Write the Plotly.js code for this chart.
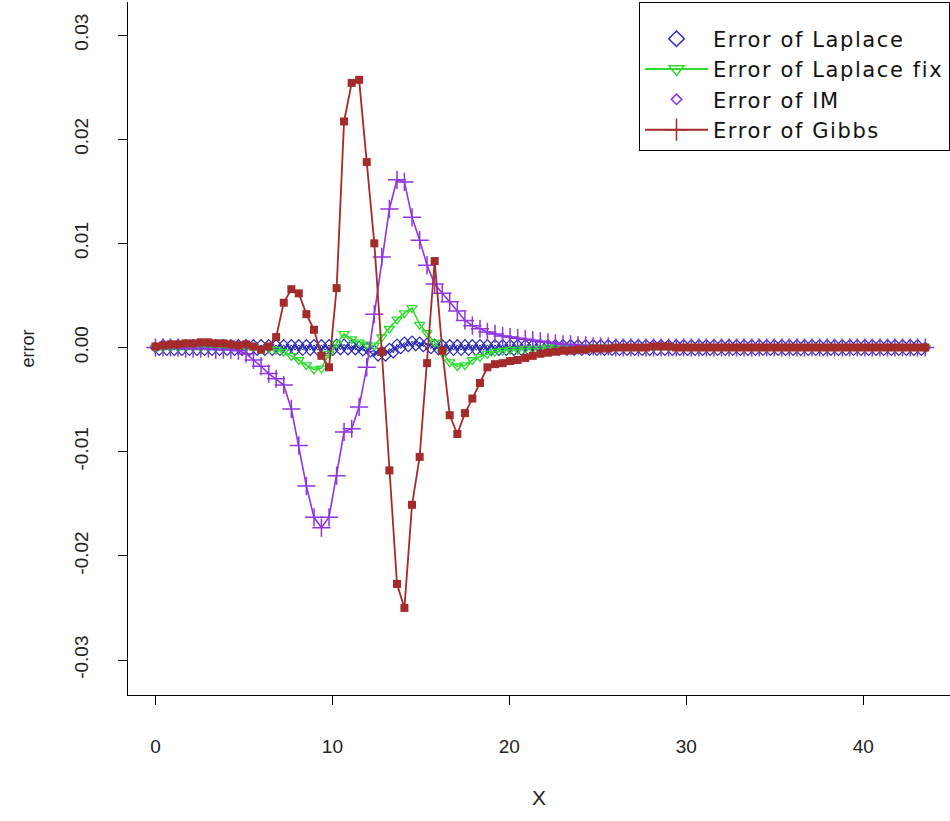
<!DOCTYPE html>
<html>
<head>
<meta charset="utf-8">
<script src="https://cdn.plot.ly/plotly-3.0.1.min.js"></script>
<style>html,body{margin:0;padding:0;background:#fff;}#chart{width:950px;height:821px;}
.legendtext{letter-spacing:1.6px;}</style>
</head>
<body>
<div id="chart"></div>
<script>
// x grid (shared by all series)
var xVals = [0.00,0.43,0.85,1.28,1.71,2.13,2.56,2.99,3.41,3.84,4.26,4.69,5.12,5.54,5.97,6.40,6.82,7.25,7.68,8.10,
  8.53,8.96,9.38,9.81,10.24,10.66,11.09,11.51,11.94,12.37,12.79,13.22,13.65,14.07,14.50,14.93,15.35,15.78,16.21,16.63,
  17.06,17.49,17.91,18.34,18.76,19.19,19.62,20.04,20.47,20.90,21.32,21.75,22.18,22.60,23.03,23.46,23.88,24.31,24.74,25.16,
  25.59,26.01,26.44,26.87,27.29,27.72,28.15,28.57,29.00,29.43,29.85,30.28,30.71,31.13,31.56,31.99,32.41,32.84,33.26,33.69,
  34.12,34.54,34.97,35.40,35.82,36.25,36.68,37.10,37.53,37.96,38.38,38.81,39.24,39.66,40.09,40.51,40.94,41.37,41.79,42.22,
  42.65,43.07,43.50];

// Error of Laplace: upper and lower zig-zag values (lower sits half a step later)
var laplaceUpper = [0.0000,0.00025,0.00025,0.00025,0.00025,0.00025,0.00025,0.00025,0.00025,0.00025,
  0.00025,0.00025,0.00025,0.00025,0.00025,0.00025,0.00025,0.00025,0.00025,0.00025,
  0.00025,0.00025,0.00025,0.00025,0.0003,0.0003,0.0002,0.0001,0.0000,-0.0003,
  -0.0004,-0.0001,0.0003,0.0005,0.0006,0.0005,0.0004,0.0003,0.00025,0.00025,
  0.00025,0.00025,0.00025,0.00025,0.00025,0.00025,0.00025,0.00025,0.00025,0.00025,
  0.00025,0.00025,0.00025,0.00025,0.00025,0.00025,0.00025,0.00025,0.00025,0.00025,
  0.00025,0.00025,0.00025,0.00025,0.00025,0.00025,0.00025,0.00025,0.00025,0.00025,
  0.00025,0.00025,0.00025,0.00025,0.00025,0.00025,0.00025,0.00025,0.00025,0.00025,
  0.00025,0.00025,0.00025,0.00025,0.00025,0.00025,0.00025,0.00025,0.00025,0.00025,
  0.00025,0.00025,0.00025,0.00025,0.00025,0.00025,0.00025,0.00025,0.00025,0.00025,
  0.00025,0.00025,0.0000];
var laplaceLower = [-0.00025,-0.00025,-0.00025,-0.00025,-0.00025,-0.00025,-0.00025,-0.00025,-0.00025,-0.00025,
  -0.00025,-0.00025,-0.00025,-0.00025,-0.00025,-0.00025,-0.00025,-0.00025,-0.00025,-0.00025,
  -0.00025,-0.00025,-0.00025,-0.00025,-0.0002,-0.0002,-0.0002,-0.0003,-0.0004,-0.0008,
  -0.0008,-0.0005,-0.0001,0.0001,0.0002,0.0001,-0.0001,-0.0002,-0.00025,-0.00025,
  -0.00025,-0.00025,-0.00025,-0.00025,-0.00025,-0.00025,-0.00025,-0.00025,-0.00025,-0.00025,
  -0.00025,-0.00025,-0.00025,-0.00025,-0.00025,-0.00025,-0.00025,-0.00025,-0.00025,-0.00025,
  -0.00025,-0.00025,-0.00025,-0.00025,-0.00025,-0.00025,-0.00025,-0.00025,-0.00025,-0.00025,
  -0.00025,-0.00025,-0.00025,-0.00025,-0.00025,-0.00025,-0.00025,-0.00025,-0.00025,-0.00025,
  -0.00025,-0.00025,-0.00025,-0.00025,-0.00025,-0.00025,-0.00025,-0.00025,-0.00025,-0.00025,
  -0.00025,-0.00025,-0.00025,-0.00025,-0.00025,-0.00025,-0.00025,-0.00025,-0.00025,-0.00025,
  -0.00025,-0.00025];

// Error of Laplace fix
var laplaceFix = [0.0000,0.0000,0.0000,0.0000,0.0000,0.0000,0.0000,0.0000,0.0000,0.0000,
  0.0000,0.0000,0.0000,0.0000,-0.0001,-0.0001,-0.0002,-0.0004,-0.0008,-0.0012,
  -0.0017,-0.0021,-0.0020,-0.0006,0.0004,0.0013,0.0008,0.0005,0.0003,0.0002,
  0.0010,0.0018,0.0027,0.0033,0.0038,0.0022,0.0014,0.0005,-0.0005,-0.0014,
  -0.0018,-0.0017,-0.0012,-0.0009,-0.0006,-0.0004,-0.0003,-0.0002,-0.0002,-0.0001,
  -0.0001,-0.0001,0.0000,0.0000,0.0000,0.0000,0.0000,0.0000,0.0000,0.0000,
  0.0000,0.0000,0.0000,0.0000,0.0000,0.0000,0.0000,0.0000,0.0000,0.0000,
  0.0000,0.0000,0.0000,0.0000,0.0000,0.0000,0.0000,0.0000,0.0000,0.0000,
  0.0000,0.0000,0.0000,0.0000,0.0000,0.0000,0.0000,0.0000,0.0000,0.0000,
  0.0000,0.0000,0.0000,0.0000,0.0000,0.0000,0.0000,0.0000,0.0000,0.0000,
  0.0000,0.0000,0.0000];

// Error of IM
var imErr = [0.0000,0.0000,0.0000,0.0000,-0.0001,-0.0001,-0.0001,-0.0001,-0.0002,-0.0002,
  -0.0002,-0.0003,-0.0006,-0.0012,-0.0018,-0.0025,-0.0030,-0.0036,-0.0059,-0.0094,
  -0.0133,-0.0163,-0.0173,-0.0163,-0.0123,-0.0081,-0.0078,-0.0057,-0.0019,0.0032,
  0.0087,0.0133,0.0161,0.0159,0.0125,0.0103,0.0079,0.0061,0.0052,0.0044,
  0.0035,0.0026,0.0021,0.0018,0.0015,0.0013,0.0011,0.0010,0.0009,0.0008,
  0.0007,0.0006,0.0005,0.0004,0.0003,0.0003,0.0002,0.0002,0.0001,0.0001,
  0.0001,0.0000,0.0000,0.0000,0.0000,0.0000,0.0000,0.0000,0.0000,0.0000,
  0.0000,0.0000,0.0000,0.0000,0.0000,0.0000,0.0000,0.0000,0.0000,0.0000,
  0.0000,0.0000,0.0000,0.0000,0.0000,0.0000,0.0000,0.0000,0.0000,0.0000,
  0.0000,0.0000,0.0000,0.0000,0.0000,0.0000,0.0000,0.0000,0.0000,0.0000,
  0.0000,0.0000,0.0000];

// Error of Gibbs
var gibbsErr = [0.0001,0.0002,0.0003,0.0003,0.0004,0.0004,0.0005,0.0005,0.0004,0.0004,
  0.0003,0.0002,0.0003,0.0001,-0.0002,0.0001,0.0010,0.0043,0.0056,0.0052,
  0.0032,0.0017,-0.0008,-0.0019,0.0057,0.0217,0.0254,0.0257,0.0178,0.0100,
  -0.0004,-0.0118,-0.0227,-0.0250,-0.0151,-0.0105,-0.0015,0.0083,-0.0003,-0.0065,
  -0.0083,-0.0063,-0.0049,-0.0034,-0.0019,-0.0016,-0.0015,-0.0013,-0.0012,-0.0010,
  -0.0008,-0.0006,-0.0005,-0.0004,-0.0003,-0.0003,-0.0002,-0.0002,-0.0001,-0.0001,
  -0.0001,0.0000,0.0000,0.0000,0.0000,0.0000,0.0001,0.0001,0.0001,0.0000,
  0.0000,0.0000,0.0000,0.0000,0.0000,0.0000,0.0000,0.0000,0.0000,0.0000,
  0.0000,0.0000,0.0000,0.0000,0.0000,0.0000,0.0000,0.0000,0.0000,0.0000,
  0.0000,0.0000,0.0000,0.0000,0.0000,0.0000,0.0000,0.0000,0.0000,0.0000,
  0.0000,0.0000,0.0000];

var seriesNames = ["Error of Laplace", "Error of Laplace fix", "Error of IM", "Error of Gibbs"];
var xTicks = [0, 10, 20, 30, 40];
var yTicks = [-0.03, -0.02, -0.01, 0.00, 0.01, 0.02, 0.03];
var yTickText = ["-0.03", "-0.02", "-0.01", "0.00", "0.01", "0.02", "0.03"];

var cBlue = "#2B2BB8", cBlueLine = "#10108A", cGreen = "#2EDC2E", cPurple = "#9035E0", cBrown = "#A52A2A";

// build Laplace zig-zag
var lapX = [], lapY = [];
for (var i = 0; i < xVals.length; i++) {
  lapX.push(xVals[i]); lapY.push(laplaceUpper[i]);
  if (i < laplaceLower.length && i + 1 < xVals.length) {
    lapX.push((xVals[i] + xVals[i + 1]) / 2); lapY.push(laplaceLower[i]);
  }
}

var traces = [
  {x: lapX, y: lapY, type: "scatter", mode: "lines+markers", showlegend: false,
   line: {color: cBlueLine, width: 1},
   marker: {symbol: "diamond-open", size: 8, color: cBlue, line: {width: 1.2, color: cBlue}}},
  {x: xVals, y: laplaceFix, type: "scatter", mode: "lines+markers", showlegend: false,
   line: {color: cGreen, width: 1.6},
   marker: {symbol: "triangle-down-open", size: 9, color: cGreen, line: {width: 1.3, color: cGreen}}},
  {x: xVals, y: imErr, type: "scatter", mode: "lines+markers", showlegend: false,
   line: {color: cPurple, width: 1.6},
   marker: {symbol: "cross-thin-open", size: 13, color: cPurple, line: {width: 1.5, color: cPurple}}},
  {x: xVals, y: gibbsErr, type: "scatter", mode: "lines+markers", showlegend: false,
   line: {color: cBrown, width: 1.8},
   marker: {symbol: "square", size: 8, color: cBrown}},
  // legend entries (styled as in the reference legend)
  {x: [null], y: [null], type: "scatter", mode: "markers", name: seriesNames[0],
   marker: {symbol: "diamond-open", size: 12, color: cBlue, line: {width: 1.5, color: cBlue}}},
  {x: [null], y: [null], type: "scatter", mode: "lines+markers", name: seriesNames[1],
   line: {color: cGreen, width: 2},
   marker: {symbol: "triangle-down-open", size: 13, color: cGreen, line: {width: 1.5, color: cGreen}}},
  {x: [null], y: [null], type: "scatter", mode: "markers", name: seriesNames[2],
   marker: {symbol: "diamond-open", size: 8, color: cPurple, line: {width: 1.5, color: cPurple}}},
  {x: [null], y: [null], type: "scatter", mode: "lines+markers", name: seriesNames[3],
   line: {color: cBrown, width: 2},
   marker: {symbol: "cross-thin-open", size: 18, color: cBrown, line: {width: 1.5, color: cBrown}}}
];

var font = "Liberation Sans, Arial, sans-serif";
var layout = {
  width: 950, height: 821,
  margin: {l: 128, r: 0, t: 2, b: 126},
  paper_bgcolor: "#fff", plot_bgcolor: "#fff",
  font: {family: font, size: 17, color: "#000"},
  showlegend: true,
  legend: {x: 1, xanchor: "right", y: 1, yanchor: "top", bordercolor: "#000", borderwidth: 1,
           bgcolor: "#fff", font: {family: "DejaVu Sans, sans-serif", size: 21, color: "#111"}, itemwidth: 63,
           tracegroupgap: 0,
           title: {text: "\u00a0", font: {family: font, size: 12}}},
  xaxis: {range: [-1.55, 44.9], showgrid: false, zeroline: false, showline: true, linecolor: "#000", linewidth: 1,
          ticks: "outside", ticklen: 9, tickcolor: "#000", tickvals: xTicks, ticktext: xTicks.map(String),
          ticklabelstandoff: 25, tickfont: {family: font, size: 19, color: "#222"},
          title: {text: "X", font: {family: font, size: 21, color: "#222"}, standoff: 34}},
  yaxis: {range: [-0.03336, 0.03317], showgrid: false, zeroline: false, showline: true, linecolor: "#000", linewidth: 1,
          ticks: "outside", ticklen: 9, tickcolor: "#000", tickvals: yTicks, ticktext: yTickText,
          tickangle: -90, ticklabelstandoff: 22, tickfont: {family: font, size: 19, color: "#222"},
          title: {text: "error", font: {family: font, size: 18, color: "#222"}, standoff: 32}}
};

Plotly.newPlot("chart", traces, layout, {displayModeBar: false, staticPlot: true});
</script>
</body>
</html>
